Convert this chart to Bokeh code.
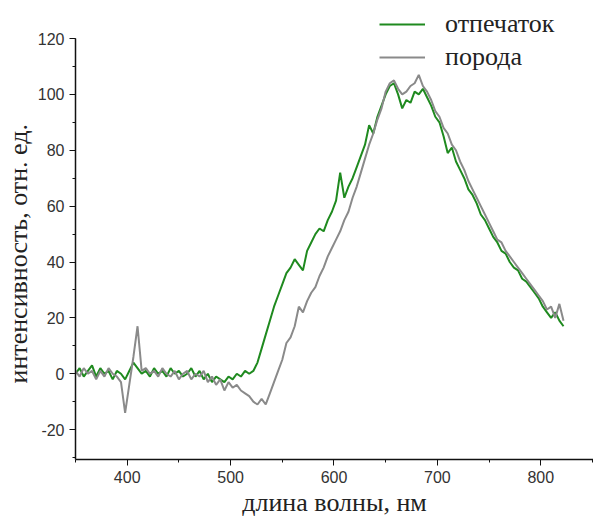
from bokeh.plotting import figure
from bokeh.models import Range1d, SingleIntervalTicker, Legend, LegendItem, CustomJSTickFormatter
from bokeh.embed import file_html
from bokeh.resources import INLINE

wavelength = [350, 354, 358, 362, 366, 370, 374, 378, 382, 386, 390, 394, 398, 402, 406, 410,
              414, 418, 422, 426, 430, 434, 438, 442, 446, 450, 454, 458, 462, 466, 470, 474,
              478, 482, 486, 490, 494, 498, 502, 506, 510, 514, 518, 522, 526, 530, 534, 538,
              542, 546, 550, 554, 558, 562, 566, 570, 574, 578, 582, 586, 590, 594, 598, 602,
              606, 610, 614, 618, 622, 626, 630, 634, 638, 642, 646, 650, 654, 658, 662, 666,
              670, 674, 678, 682, 686, 690, 694, 698, 702, 706, 710, 714, 718, 722, 726, 730,
              734, 738, 742, 746, 750, 754, 758, 762, 766, 770, 774, 778, 782, 786, 790, 794,
              798, 802, 806, 810, 814, 818, 822]

otpechatok = [0, 2, -1, 1, 3, -1, 2, 0, 1, -2, 1, 0, -2, 1, 4, 2,
              0, 1, -1, 2, 0, 1, -1, 2, 0, 1, -1, 0, 2, -1, 1, -2,
              0, -3, -1, -2, -3, -1, -2, 0, -1, 1, 0, 1, 4, 9, 14, 19,
              24, 28, 32, 36, 38, 41, 39, 37, 44, 47, 50, 52, 51, 55, 58, 62,
              72, 63, 67, 70, 74, 78, 82, 89, 86, 92, 96, 100, 103, 104, 100, 95,
              98, 97, 101, 100, 102, 99, 96, 92, 90, 85, 79, 81, 76, 73, 70, 66,
              64, 61, 57, 55, 52, 49, 47, 44, 43, 40, 38, 37, 34, 33, 31, 29,
              27, 24, 22, 20, 22, 19, 17]

poroda = [1, -1, 2, 0, 1, -2, 1, -1, 2, 0, -1, -3, -14, -4, 6, 17,
          1, 2, 0, 1, -1, 2, 0, -1, 1, -2, 0, 1, -2, 0, -1, 1,
          -3, -1, -4, -2, -6, -3, -5, -4, -6, -7, -8, -10, -11, -9, -11, -7,
          -3, 1, 5, 11, 13, 17, 24, 22, 26, 29, 31, 35, 38, 42, 45, 48,
          51, 55, 58, 63, 67, 72, 77, 82, 86, 91, 95, 101, 104, 105, 102, 100,
          101, 103, 104, 107, 103, 101, 98, 94, 92, 88, 86, 82, 80, 76, 73, 69,
          66, 63, 60, 57, 54, 51, 48, 47, 44, 42, 40, 38, 36, 34, 32, 30,
          28, 26, 23, 24, 20, 25, 19]

series_names = ["отпечаток", "порода"]
x_title = "длина волны, нм"
y_title = "интенсивность, отн. ед."

p = figure(width=593, height=521, output_backend="svg", toolbar_location=None,
           x_range=Range1d(350, 851), y_range=Range1d(-30.7, 132.9),
           min_border_left=73, min_border_right=0, min_border_top=2, min_border_bottom=62)
p.outline_line_color = None
p.grid.visible = False

r1 = p.line(wavelength, otpechatok, line_color="#1f8a1f", line_width=2)
r2 = p.line(wavelength, poroda, line_color="#8a8a8a", line_width=2)

p.xaxis.ticker = SingleIntervalTicker(interval=100, num_minor_ticks=2)
p.yaxis.ticker = SingleIntervalTicker(interval=20, num_minor_ticks=2)
p.yaxis.bounds = (-30.7, 120)

for ax in (p.xaxis[0], p.yaxis[0]):
    ax.formatter = CustomJSTickFormatter(code="return String(tick);")
    ax.axis_line_color = "#111111"
    ax.axis_line_width = 1.5
    ax.major_tick_line_color = "#111111"
    ax.minor_tick_line_color = "#111111"
    ax.major_tick_in = 0
    ax.major_tick_out = 6
    ax.minor_tick_in = 0
    ax.minor_tick_out = 3
    ax.major_label_text_font = "Liberation Sans"
    ax.major_label_text_font_size = "16px"
    ax.major_label_text_color = "#333333"
    ax.major_label_standoff = 5
    ax.axis_label_text_font = "Liberation Serif"
    ax.axis_label_text_font_size = "26px"
    ax.axis_label_text_font_style = "normal"
    ax.axis_label_text_color = "#222222"
    ax.axis_label_standoff = 2

p.xaxis.axis_label = x_title
p.yaxis.axis_label = y_title + "\u00a0" * 7

legend = Legend(items=[LegendItem(label=series_names[0], renderers=[r1]),
                       LegendItem(label=series_names[1], renderers=[r2])],
                location=(304, 387), padding=0, margin=0, spacing=3,
                glyph_width=46, glyph_height=24, label_height=24, label_standoff=20,
                label_text_font="Liberation Serif", label_text_font_size="26px",
                label_text_color="#222222", border_line_color=None,
                background_fill_alpha=0)
p.add_layout(legend, "center")

open("out.html", "w").write(file_html(p, INLINE))
